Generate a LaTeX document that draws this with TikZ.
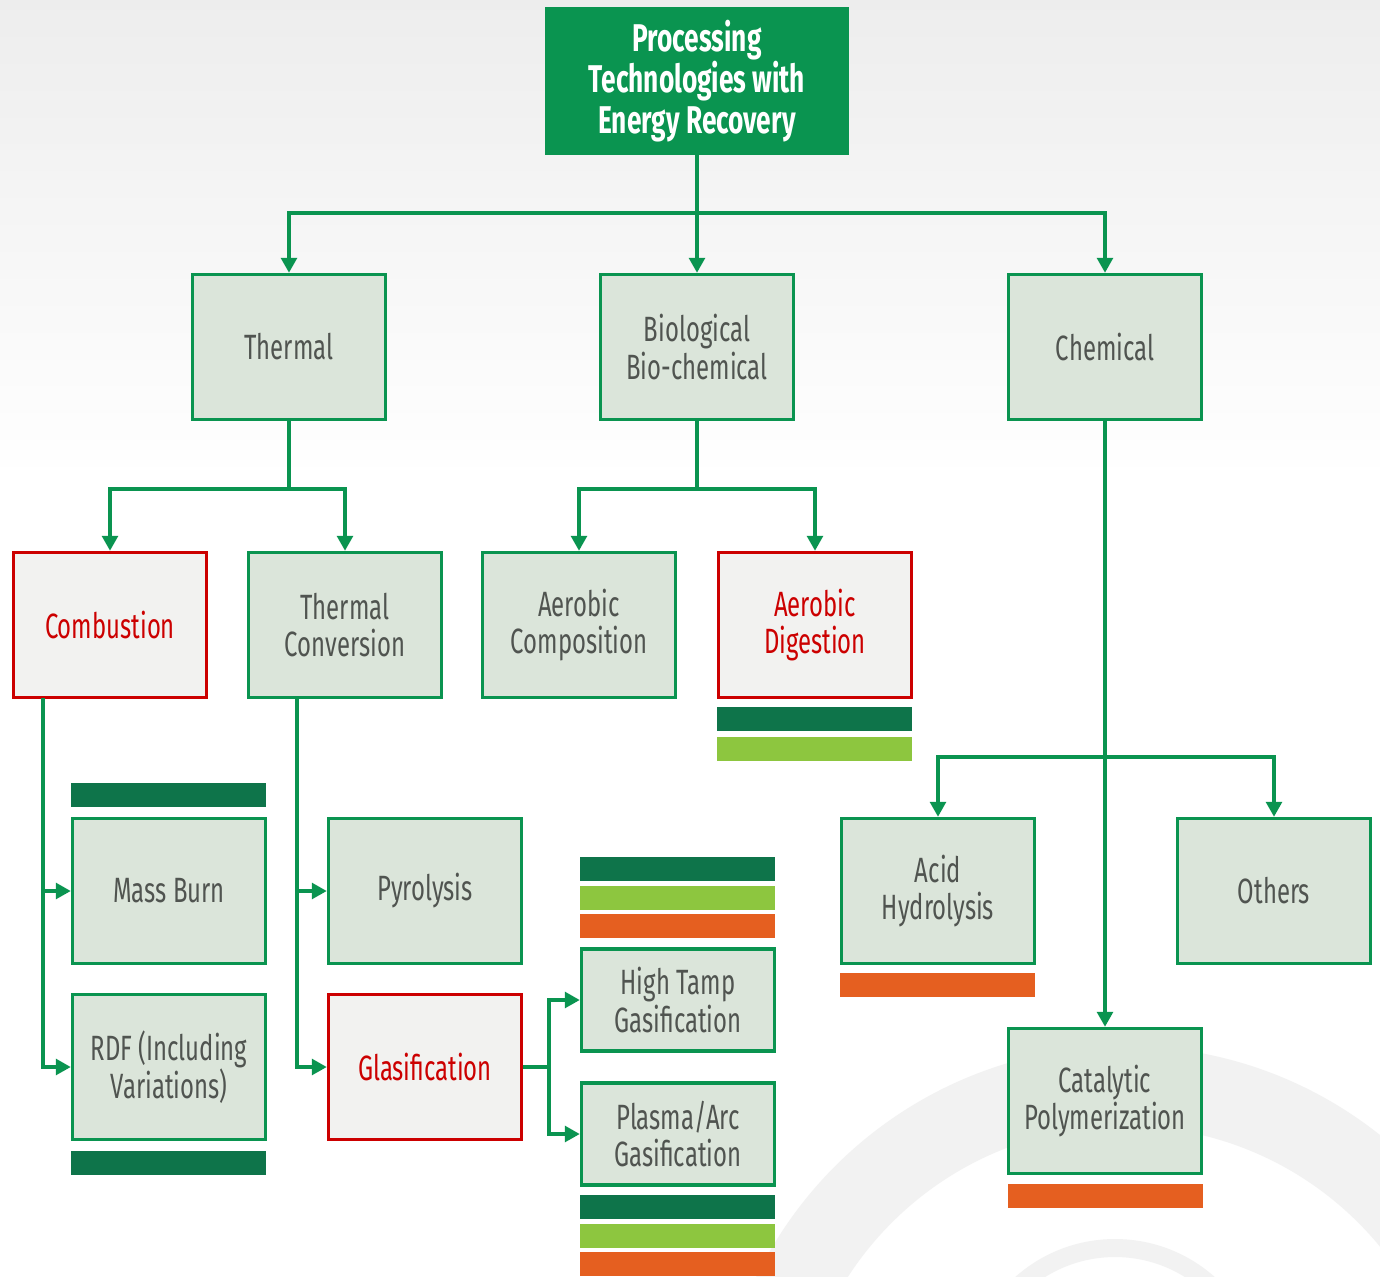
\documentclass[tikz,border=0pt]{standalone}
\usepackage{fontspec}
\setmainfont[FakeStretch=0.68]{Fira Sans}
\usetikzlibrary{arrows.meta, positioning}

\definecolor{procgreen}{RGB}{10,148,80}
\definecolor{panel}{RGB}{219,229,218}
\definecolor{alertred}{RGB}{204,0,0}
\definecolor{paper}{RGB}{242,242,240}
\definecolor{inkgray}{RGB}{80,84,80}
\definecolor{deepgreen}{RGB}{14,116,74}
\definecolor{limegreen}{RGB}{141,198,63}
\definecolor{burnt}{RGB}{229,95,32}

\begin{document}
\begin{tikzpicture}[x=0.02cm, y=-0.02cm, >={Triangle[length=8.5pt,width=9pt]},
    font=\fontsize{20}{21.5}\selectfont]
  \tikzset{
    proc/.style={
      rectangle,
      draw=procgreen,
      line width=2pt,
      fill=panel,
      text=inkgray,
      minimum width=3.86cm,
      minimum height=2.9cm,
      inner sep=0pt,
      align=center},
    hot/.style={
      proc,
      draw=alertred,
      fill=paper,
      text=alertred},
    thin/.style={
      proc,
      minimum height=2.04cm},
    root/.style={
      rectangle,
      fill=procgreen,
      text=white,
      font=\fontsize{22}{23.2}\selectfont\bfseries,
      minimum width=6.08cm,
      minimum height=2.96cm,
      align=center},
    link/.style={
      draw=procgreen,
      line width=1.9pt},
    darkbar/.style={fill=deepgreen},
    limebar/.style={fill=limegreen},
    burntbar/.style={fill=burnt}}

  \useasboundingbox (0,0) rectangle (1380,1277);

  % backdrop: soft grey top and two faint rings
  \begin{scope}
    \clip (0,0) rectangle (1380,1277);
    \fill[white] (0,0) rectangle (1380,1277);
    \fill[top color=black!7, bottom color=white] (0,0) rectangle (1380,480);
    \fill[black!5, even odd rule] (1125,1456) circle[radius=8.2cm]
                                  (1125,1456) circle[radius=6.6cm];
    \fill[black!5, even odd rule] (1115,1389) circle[radius=3.0cm]
                                  (1115,1389) circle[radius=2.64cm];
  \end{scope}

  \node[root] (top) at (697,81) {Processing\\Technologies with\\Energy Recovery};

  \node[proc] (thermal) at (289,347) {Thermal};
  \node[proc] (bio) at (697,347) {Biological\\Bio-chemical};
  \node[proc] (chem) at (1105,347) {Chemical};

  \node[hot] (comb) at (110,625) {Combustion};
  \node[proc] (tconv) at (345,625) {Thermal\\Conversion};
  \node[proc] (aercomp) at (579,625) {Aerobic\\Composition};
  \node[hot] (aerdig) at (815,625) {Aerobic\\Digestion};

  \node[proc] (mass) at (169,891) {Mass Burn};
  \node[proc] (rdf) at (169,1067) {RDF (Including\\Variations)};
  \node[proc] (pyro) at (425,891) {Pyrolysis};
  \node[hot] (glas) at (425,1067) {Glasification};
  \node[thin] (hightamp) at (678,1000) {High Tamp\\Gasification};
  \node[thin] (plasma) at (678,1134) {Plasma/Arc\\Gasification};

  \node[proc] (acid) at (938,891) {Acid\\Hydrolysis};
  \node[proc] (others) at (1274,891) {Others};
  \node[proc] (catal) at (1105,1101) {Catalytic\\Polymerization};

  % branch points
  \coordinate (mainbus) at (697,213);
  \coordinate (thermbus) at (289,489);
  \coordinate (biobus) at (697,489);
  \coordinate (chembus) at (1105,757);
  \coordinate (combtap) at (43,698);
  \coordinate (tconvtap) at (297,698);
  \coordinate (glasfork) at (549,1067);

  \path[link] (top) -- (mainbus);
  \path[link,->] (mainbus) -- (bio);
  \path[link,->] (mainbus) -| (thermal);
  \path[link,->] (mainbus) -| (chem);

  \path[link] (thermal) -- (thermbus);
  \path[link,->] (thermbus) -| (comb);
  \path[link,->] (thermbus) -| (tconv);

  \path[link] (bio) -- (biobus);
  \path[link,->] (biobus) -| (aercomp);
  \path[link,->] (biobus) -| (aerdig);

  \path[link,->] (chem) -- (catal);
  \path[link,->] (chembus) -| (acid);
  \path[link,->] (chembus) -| (others);

  \path[link,->] (combtap) |- (mass);
  \path[link,->] (combtap) |- (rdf);
  \path[link,->] (tconvtap) |- (pyro);
  \path[link,->] (tconvtap) |- (glas);

  \path[link] (glas) -- (glasfork);
  \path[link,->] (glasfork) |- (hightamp);
  \path[link,->] (glasfork) |- (plasma);

  % colour tags
  \fill[darkbar] (717,707) rectangle (912,731);
  \fill[limebar] (717,737) rectangle (912,761);

  \fill[darkbar] (71,783) rectangle (266,807);
  \fill[darkbar] (71,1151) rectangle (266,1175);

  \fill[darkbar] (580,857) rectangle (775,881);
  \fill[limebar] (580,886) rectangle (775,910);
  \fill[burntbar] (580,914) rectangle (775,938);

  \fill[darkbar] (580,1195) rectangle (775,1219);
  \fill[limebar] (580,1224) rectangle (775,1248);
  \fill[burntbar] (580,1252) rectangle (775,1276);

  \fill[burntbar] (840,973) rectangle (1035,997);
  \fill[burntbar] (1008,1184) rectangle (1203,1208);

\end{tikzpicture}
\end{document}
